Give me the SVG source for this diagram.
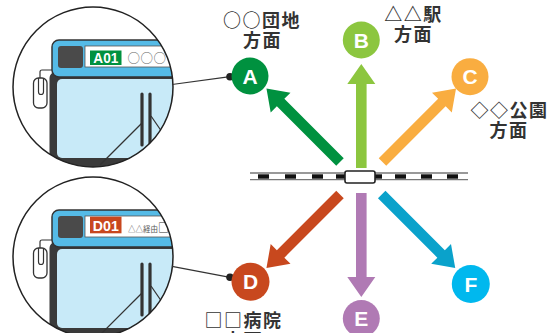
<svg xmlns="http://www.w3.org/2000/svg" xmlns:xlink="http://www.w3.org/1999/xlink" width="555" height="333" viewBox="0 0 555 333">
  <style>
    .lbl { font-family: "Noto Sans CJK JP", "Noto Sans", sans-serif; font-size: 18px; font-weight: bold; fill: #333; text-anchor: middle; letter-spacing: 1.5px; }
    .letter { font-family: "Liberation Sans", Arial, sans-serif; font-size: 21px; font-weight: bold; fill: #fff; text-anchor: middle; }
    .code { font-family: "Liberation Sans", Arial, sans-serif; font-weight: bold; fill: #fff; text-anchor: middle; }
    .ring { fill: none; stroke: #222; stroke-width: 1.5; }
    .lead { stroke: #333; stroke-width: 1.2; fill: none; }
    .dash { fill: #111; }
    .rail { stroke: #777; stroke-width: 1.3; }
  </style>
  <defs>
    <!-- thick arrow pointing along +x, length 104 -->
    <path id="arrow" d="M0,-5.3 H84 V-14 L104,0 L84,14 V5.3 H0 Z"/>
    <clipPath id="clipTop"><circle cx="93" cy="87" r="80"/></clipPath>
    <!-- bus front, upper-left corner -->
    <g id="bus">
      <rect x="49.5" y="72" width="200" height="110" rx="6" fill="#3a3a3a"/>
      <rect x="52" y="40" width="200" height="37" rx="7" fill="#55bbe7" stroke="#333" stroke-width="1.5"/>
      <rect x="57" y="79" width="200" height="79" rx="5" fill="#c8eaf8"/>
      <rect x="58" y="46" width="25" height="22" rx="3" fill="#4a4a4a"/>
      <rect x="85" y="46" width="110" height="21" fill="#fff" stroke="#555" stroke-width="0.8"/>
      <!-- mirror -->
      <path d="M52,70 H42 Q40,70 40,72 V78" class="lead"/>
      <rect x="33.5" y="78" width="13.5" height="30" rx="5" fill="#fff" stroke="#333" stroke-width="1.3"/>
      <path d="M38.5,78 V92 a2.5,2.5 0 0 0 5,0 V78" class="lead"/>
      <!-- wipers -->
      <line x1="142" y1="94" x2="142" y2="145" stroke="#333" stroke-width="3.2" stroke-linecap="round"/>
      <line x1="150" y1="94" x2="150" y2="145" stroke="#333" stroke-width="3.2" stroke-linecap="round"/>
      <line x1="100" y1="165" x2="142" y2="123" class="lead"/>
      <line x1="151" y1="116" x2="162" y2="132" class="lead"/>
    </g>
  </defs>

  <!-- inset: bus bound for A -->
  <g id="inset-a">
    <circle cx="93" cy="87" r="80" fill="#fff"/>
    <g clip-path="url(#clipTop)">
      <use xlink:href="#bus"/>
      <rect x="90" y="50.5" width="31.5" height="14.5" fill="#00913f"/>
      <text class="code" x="105.8" y="62.8" font-size="14.5" textLength="25" lengthAdjust="spacingAndGlyphs">A01</text>
      <text x="127.5" y="63" font-family="'Noto Sans CJK JP', sans-serif" font-size="12.5" fill="#666" letter-spacing="0.5">○○○</text>
    </g>
    <circle cx="93" cy="87" r="80" class="ring"/>
  </g>

  <!-- inset: bus bound for D -->
  <g id="inset-d">
    <g transform="translate(0,170)">
      <circle cx="93" cy="87" r="80" fill="#fff"/>
      <g clip-path="url(#clipTop)">
        <use xlink:href="#bus"/>
        <rect x="90" y="46.7" width="31.5" height="16.6" fill="#c8471e"/>
        <text class="code" x="105.8" y="61.2" font-size="15" textLength="26" lengthAdjust="spacingAndGlyphs">D01</text>
        <text x="128" y="61.5" font-family="'Noto Sans CJK JP', sans-serif" font-size="7.5" fill="#555">△△経由<tspan font-size="11" fill="#333">□</tspan></text>
      </g>
      <circle cx="93" cy="87" r="80" class="ring"/>
    </g>
  </g>

  <!-- railway and station -->
  <g id="railway">
    <line x1="250" y1="173" x2="468" y2="173" class="rail"/>
    <line x1="250" y1="179.6" x2="468" y2="179.6" class="rail"/>
    <rect class="dash" x="258" y="174.3" width="11" height="4.4"/>
    <rect class="dash" x="285" y="174.3" width="11" height="4.4"/>
    <rect class="dash" x="312" y="174.3" width="11" height="4.4"/>
    <rect class="dash" x="336" y="174.3" width="9" height="4.4"/>
    <rect class="dash" x="374" y="174.3" width="8" height="4.4"/>
    <rect class="dash" x="395" y="174.3" width="11" height="4.4"/>
    <rect class="dash" x="421" y="174.3" width="11" height="4.4"/>
    <rect class="dash" x="447" y="174.3" width="11" height="4.4"/>
    <rect id="station" x="345" y="171" width="30" height="12" rx="2" fill="#fff" stroke="#222" stroke-width="1.6"/>
  </g>

  <!-- connectors -->
  <g id="connectors">
    <use xlink:href="#arrow" transform="translate(340,162) rotate(-135)" fill="#00913f"/>
    <use xlink:href="#arrow" transform="translate(361.3,168) rotate(-90)" fill="#8cc63f"/>
    <use xlink:href="#arrow" transform="translate(382.5,162) rotate(-45)" fill="#f9ad40"/>
    <use xlink:href="#arrow" transform="translate(340,194.5) rotate(135)" fill="#c8481e"/>
    <use xlink:href="#arrow" transform="translate(361.3,193) rotate(90)" fill="#b07ab4"/>
    <use xlink:href="#arrow" transform="translate(381.7,194.5) rotate(45)" fill="#0aa2cb"/>
    <line x1="172" y1="84.5" x2="230" y2="76.7" class="lead"/>
    <circle cx="230" cy="76.7" r="3.8" fill="#222"/>
    <line x1="172" y1="266.3" x2="230" y2="277.3" class="lead"/>
    <circle cx="230" cy="277.3" r="3.8" fill="#222"/>
  </g>

  <!-- stops -->
  <g id="stop-a">
    <circle cx="250" cy="76" r="18.5" fill="#00913f"/>
    <text class="letter" x="250" y="83.5">A</text>
    <text class="lbl"><tspan x="262" y="26.5">○○団地</tspan><tspan x="262.5" y="46.5">方面</tspan></text>
  </g>
  <g id="stop-b">
    <circle cx="361.3" cy="40" r="18.5" fill="#8cc63f"/>
    <text class="letter" x="361.3" y="47.5">B</text>
    <text class="lbl"><tspan x="413.5" y="20.5">△△駅</tspan><tspan x="413.5" y="40.5">方面</tspan></text>
  </g>
  <g id="stop-c">
    <circle cx="470" cy="76.7" r="18.5" fill="#f9ad40"/>
    <text class="letter" x="470" y="84.2">C</text>
    <text class="lbl"><tspan x="509.5" y="117">◇◇公園</tspan><tspan x="509" y="137">方面</tspan></text>
  </g>
  <g id="stop-d">
    <circle cx="250.5" cy="281.7" r="19" fill="#c8481e"/>
    <text class="letter" x="250.5" y="289.2">D</text>
    <text class="lbl"><tspan x="243.5" y="327">□□病院</tspan><tspan x="243.5" y="347">方面</tspan></text>
  </g>
  <g id="stop-e">
    <circle cx="361.3" cy="318.5" r="18.5" fill="#b07ab4"/>
    <text class="letter" x="361.3" y="326">E</text>
  </g>
  <g id="stop-f">
    <circle cx="470.8" cy="284" r="19" fill="#00b8ee"/>
    <text class="letter" x="470.8" y="291.5">F</text>
  </g>
</svg>
